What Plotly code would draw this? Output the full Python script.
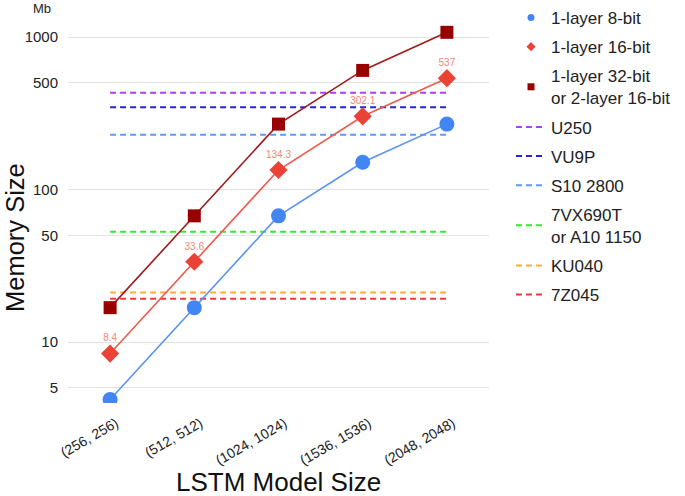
import plotly.graph_objects as go

categories = ["(256, 256)", "(512, 512)", "(1024, 1024)", "(1536, 1536)", "(2048, 2048)"]
mem_8bit = [4.2, 16.8, 67.2, 151.0, 268.5]
mem_16bit = [8.4, 33.6, 134.3, 302.1, 537]
mem_32bit = [16.8, 67.2, 268.6, 604.2, 1074]
label_16bit = ["8.4", "33.6", "134.3", "302.1", "537"]

device_names = ["U250", "VU9P", "S10 2800", "7VX690T<br>or A10 1150", "KU040", "7Z045"]
device_mem = [432, 345.9, 229, 52.9, 21.1, 19.2]
device_colors = ["#ad3ff0", "#2323dc", "#5e9bf0", "#33ea33", "#ffaa3c", "#f03a3a"]

series_names = ["1-layer 8-bit", "1-layer 16-bit", "1-layer 32-bit<br>or 2-layer 16-bit"]
series_vals = [mem_8bit, mem_16bit, mem_32bit]
marker_colors = ["#4285f4", "#ea4335", "#990000"]
line_colors = ["#5a93f0", "#ef5a4c", "#a11a1a"]
symbols = ["circle", "diamond", "square"]
marker_sizes = [15, 14, 13]

FONT = "Liberation Sans, Arial, sans-serif"
W, H = 685, 496
L, T, PW, PH = 68, 25, 421, 378

fig = go.Figure()

for i, name in enumerate(series_names):
    fig.add_trace(go.Scatter(
        x=[None], y=[None], mode="markers", name=name,
        marker=dict(symbol=symbols[i], color=marker_colors[i], size=7),
        legendgroup="s%d" % i, showlegend=True, hoverinfo="skip"))

for i, name in enumerate(device_names):
    fig.add_trace(go.Scatter(
        x=[categories[0], categories[-1]], y=[device_mem[i], device_mem[i]],
        mode="lines", name=name, legendgroup="d%d" % i,
        line=dict(color=device_colors[i], width=2, dash="6px,4px")))

for i, name in enumerate(series_names):
    kw = {}
    mode = "lines+markers"
    if i == 1:
        mode = "lines+markers+text"
        kw = dict(text=label_16bit, textposition="top center",
                  textfont=dict(size=10, color="#f4857c", family=FONT))
    fig.add_trace(go.Scatter(
        x=categories, y=series_vals[i], mode=mode, showlegend=False,
        line=dict(color=line_colors[i], width=1.6),
        marker=dict(symbol=symbols[i], color=marker_colors[i], size=marker_sizes[i]),
        **kw))

def px_x(x):
    return (x - L) / PW

def px_y(y):
    return (T + PH - y) / PH

fig.update_layout(
    width=W, height=H,
    margin=dict(l=L, r=W - L - PW, t=T, b=H - T - PH, autoexpand=False),
    paper_bgcolor="white", plot_bgcolor="white",
    font=dict(family=FONT, color="#222222"),
    xaxis=dict(
        type="category", categoryorder="array", categoryarray=categories,
        range=[-0.5, 4.5], showgrid=False, zeroline=False, showline=False,
        automargin=False, ticks="outside", ticklen=6, tickcolor="rgba(0,0,0,0)",
        ticklabelshift=6,
        tickangle=-30, tickfont=dict(size=14, color="#222222")),
    yaxis=dict(
        type="log", range=[0.6, 3.079],
        tickvals=[5, 10, 50, 100, 500, 1000],
        ticktext=["5", "10", "50", "100", "500", "1000"],
        automargin=False, ticks="outside", ticklen=6, tickcolor="rgba(0,0,0,0)",
        showgrid=True, gridcolor="#e2e2e2", gridwidth=1, zeroline=False, showline=False,
        tickfont=dict(size=15, color="#222222")),
    legend=dict(
        xref="container", yref="container",
        x=511 / W, xanchor="left", y=1.018, yanchor="top",
        maxheight=490,
        font=dict(size=17, color="#222222", family=FONT),
        tracegroupgap=4, traceorder="grouped", bgcolor="rgba(0,0,0,0)",
        itemwidth=30),
    annotations=[
        dict(text="Mb", xref="paper", yref="paper", x=px_x(42), y=px_y(8),
             xanchor="center", yanchor="middle", showarrow=False,
             font=dict(size=13, color="#222222")),
        dict(text="LSTM Model Size", xref="paper", yref="paper", x=px_x(278), y=px_y(482),
             xanchor="center", yanchor="middle", showarrow=False,
             font=dict(size=26, color="#111111")),
        dict(text="Memory Size", xref="paper", yref="paper", x=px_x(15), y=px_y(238),
             xanchor="center", yanchor="middle", showarrow=False, textangle=-90,
             font=dict(size=25.5, color="#111111")),
    ],
    showlegend=True,
)

fig.write_html("out.html", config={"displayModeBar": False},
               post_script="document.body.style.margin='0px';")
